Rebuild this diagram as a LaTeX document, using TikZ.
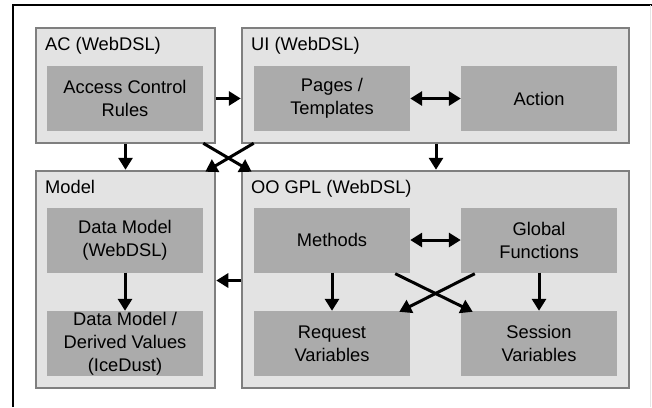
\documentclass[tikz,border=0pt]{standalone}
\usepackage{fontspec}
\setmainfont{Liberation Sans}
\usetikzlibrary{arrows.meta}
\definecolor{outerfill}{HTML}{E3E3E3}
\definecolor{outerline}{HTML}{7F7F7F}
\definecolor{innerfill}{HTML}{ABABAB}
\tikzset{
    layer/.style={draw=outerline, line width=2.5bp, fill=outerfill, inner sep=0pt},
    part/.style={fill=innerfill, minimum width=156bp, minimum height=65bp, inner sep=0pt,
        align=center, font=\fontsize{18.3bp}{23bp}\selectfont},
    title/.style={anchor=north west, inner sep=0pt, font=\fontsize{18.3bp}{23bp}\selectfont},
    dep/.style={line width=3bp, -{Triangle[width=14bp,length=12bp]}},
    both/.style={line width=3bp, {Triangle[width=14bp,length=12bp]}-{Triangle[width=14bp,length=12bp]}}
}
\begin{document}
\begin{tikzpicture}[x=1bp,y=-1bp]
        \useasboundingbox (0,0) rectangle (652,407);

        % Frame round the picture
        \draw[line width=1.5bp] (13,407) -- (13,5) -- (652,5);
        \draw[black!10, line width=1bp] (650,5) -- (650,407);

        % The four layers
        \node[layer, minimum width=179bp, minimum height=115bp] (ac) at (125.5,85.5) {};
        \node[layer, minimum width=387bp, minimum height=115bp] (ui) at (435.5,85.5) {};
        \node[layer, minimum width=179bp, minimum height=217bp] (model) at (125.5,279.5) {};
        \node[layer, minimum width=387bp, minimum height=217bp] (oo) at (435.5,279.5) {};

        % Layer titles
        \node[title] (actitle) at (45,37) {AC (WebDSL)};
        \node[title] (uititle) at (251,37) {UI (WebDSL)};
        \node[title] (modeltitle) at (45,180) {Model};
        \node[title] (ootitle) at (251,180) {OO GPL (WebDSL)};

        % Parts inside the layers
        \node[part] (rules) at (125,98.5) {Access Control\\Rules};
        \node[part] (pages) at (332,98.5) {Pages /\\Templates};
        \node[part] (action) at (539,98.5) {Action};
        \node[part] (datamodel) at (125,240) {Data Model\\(WebDSL)};
        \node[part] (derived) at (125,343.5) {Data Model /\\Derived Values\\(IceDust)};
        \node[part] (methods) at (332,240) {Methods};
        \node[part] (global) at (539,240) {Global\\Functions};
        \node[part] (request) at (332,343.5) {Request\\Variables};
        \node[part] (session) at (539,343.5) {Session\\Variables};

        % Dependencies between layers
        \draw[dep] ([yshift=-13]ac.east) -- ([yshift=-13]ui.west);
        \draw[dep] (ac.south) -- (model.north);
        \draw[dep] ([xshift=0.5]ui.south) -- ([xshift=0.5]oo.north);
        \draw[dep] ([xshift=-13,yshift=1]ac.south east) -- ([xshift=11,yshift=-2]oo.north west);
        \draw[dep] ([xshift=13,yshift=1]ui.south west) -- ([xshift=-11,yshift=-2]model.north east);
        \draw[dep] ([yshift=-1]oo.west) -- ([yshift=-1]model.east);

        % Dependencies inside the layers
        \draw[both] (pages) -- (action);
        \draw[both] (methods) -- (global);
        \draw[dep] (datamodel) -- (derived);
        \draw[dep] (methods) -- (request);
        \draw[dep] (global) -- (session);
        \draw[dep] ([xshift=-15,yshift=-1]methods.south east) -- ([xshift=12,yshift=-1]session.north west);
        \draw[dep] ([xshift=14,yshift=-1]global.south west) -- ([xshift=-11,yshift=-1]request.north east);
\end{tikzpicture}
\end{document}
